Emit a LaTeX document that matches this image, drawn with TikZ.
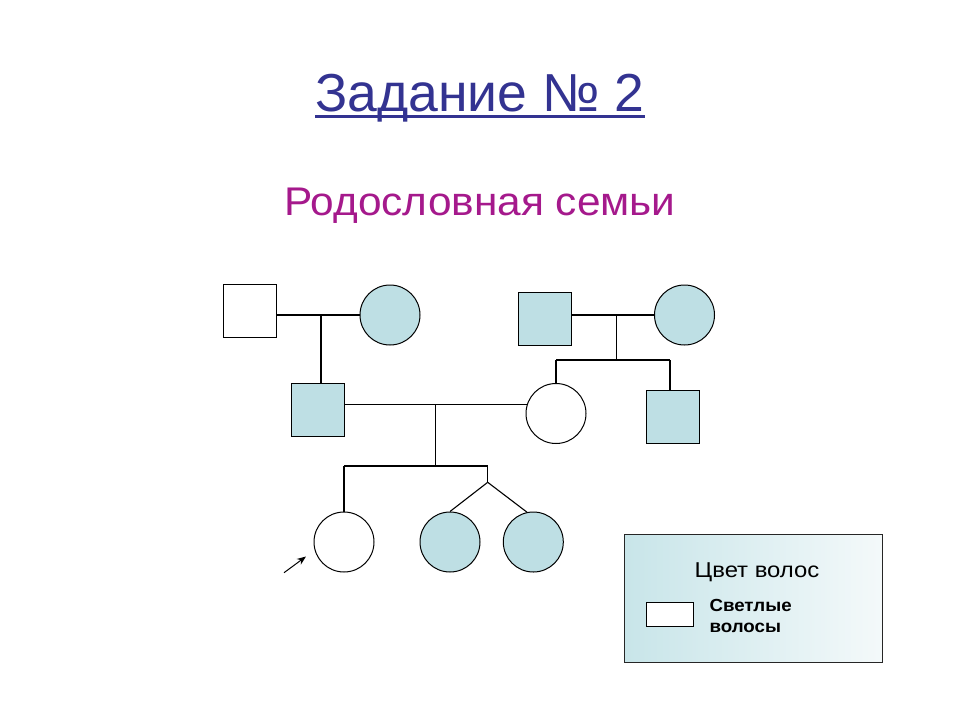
\documentclass[tikz,border=0pt]{standalone}
\usepackage{fontspec}
\setmainfont{Liberation Sans}
\newfontfamily\subfont[FakeStretch=1.06]{Liberation Sans}
\newfontfamily\legfont[FakeStretch=1.11]{Liberation Sans}
\newfontfamily\legbold[FakeStretch=1.07]{Liberation Sans Bold}
\usetikzlibrary{arrows.meta}
\definecolor{famblue}{RGB}{190,223,228}
\definecolor{titleblue}{RGB}{51,51,145}
\definecolor{submag}{RGB}{165,25,140}
\definecolor{legblue}{RGB}{200,229,233}
\definecolor{legwhite}{RGB}{244,249,250}
\tikzset{
  line/.style={line width=1.1pt, draw=black},
  male/.style={rectangle, draw=black, line width=1pt, minimum size=53pt, inner sep=0pt},
  female/.style={circle, draw=black, line width=1pt, minimum size=60pt, inner sep=0pt},
  affected/.style={fill=famblue},
  plain/.style={fill=white},
  txt/.style={inner sep=0pt, outer sep=0pt},
}
\begin{document}
\begin{tikzpicture}[x=1pt, y=-1pt]
\useasboundingbox[fill=white] (0,0) rectangle (960,720);

% titles
\node[txt, anchor=base, text=titleblue, font=\fontsize{53.5}{60}\selectfont] (title) at (480,111.5) {Задание № 2};
\draw[titleblue, line width=2.5pt] ([yshift=-5pt]title.base west) -- ([yshift=-5pt]title.base east);
\node[txt, anchor=base, text=submag, font=\subfont\fontsize{40}{48}\selectfont] (sub) at (480,215) {Родословная семьи};

% generation I
\node[male, plain] (gf1) at (250,311) {};
\node[female, affected] (gm1) at (390,315) {};
\node[male, affected] (gf2) at (545,319) {};
\node[female, affected] (gm2) at (684.5,315) {};
% generation II
\node[male, affected] (father) at (318,410) {};
\node[female, plain] (mother) at (556,413.5) {};
\node[male, affected] (uncle) at (673,417) {};
% generation III
\node[female, plain] (proband) at (344,542) {};
\node[female, affected] (twin1) at (450,542) {};
\node[female, affected] (twin2) at (533.3,542) {};

% coordinates
\coordinate (m1) at (321,315);
\coordinate (m2) at (616.3,315);
\coordinate (s2) at (616.3,360);
\coordinate (s2l) at (556,360);
\coordinate (s2r) at (670,360);
\coordinate (m3) at (mother.163 -| 435.5,0);
\coordinate (s3) at (435.5,466);
\coordinate (s3l) at (344,466);
\coordinate (s3r) at (487.7,466);
\coordinate (tw) at (487.7,482.3);
\coordinate (arrS) at (284,572.7);
\coordinate (arrE) at (306,556.5);

% connectors
\draw[line] (gf1.east |- m1) -- (gm1.west |- m1);
\draw[line] (m1) -- (m1 |- father.north);
\draw[line] (gf2.east |- m2) -- (gm2.west |- m2);
\draw[line] (m2) -- (s2);
\draw[line] (s2l) -- (s2r);
\draw[line] (s2l) -- (mother.north);
\draw[line] (s2r) -- (s2r |- uncle.north);
\draw[line] (father.east |- mother.163) -- (mother.163);
\draw[line] (m3) -- (m3 |- s3);
\draw[line] (s3l) -- (s3r);
\draw[line] (s3l) -- (proband.north);
\draw[line] (s3r) -- (tw);
\draw[line] (tw) -- (twin1.north);
\draw[line] (tw) -- (twin2.102);
\draw[line width=1pt, -{Stealth[length=9pt, width=7pt]}] (arrS) -- (arrE);

% legend
\node[rectangle, draw=black!85, line width=1pt, left color=legblue, right color=legwhite, minimum width=257.7pt, minimum height=127.7pt, inner sep=0pt, anchor=north west] (legend) at (624,534) {};
\node[txt, anchor=base, font=\legfont\fontsize{21.5}{25}\selectfont] (legtitle) at (757,577.5) {Цвет волос};
\node[rectangle, draw=black, line width=1pt, fill=white, minimum width=46.7pt, minimum height=23.4pt, inner sep=0pt, anchor=north west] (legsym) at (646,602.3) {};
\node[txt, anchor=base west, font=\legbold\fontsize{17.5}{21}\selectfont] (legtext1) at (709.5,611) {Светлые};
\node[txt, anchor=base west, font=\legbold\fontsize{17.5}{21}\selectfont] (legtext2) at (709.5,632) {волосы};
\end{tikzpicture}
\end{document}
